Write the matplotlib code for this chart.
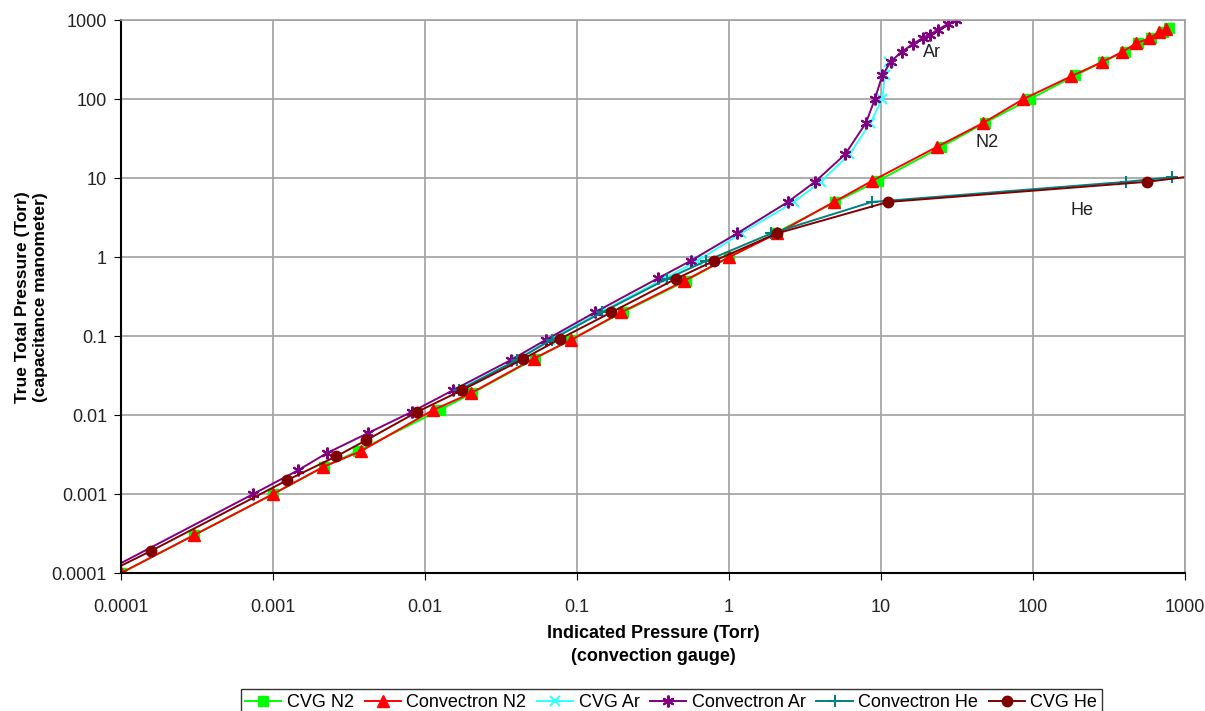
import matplotlib
matplotlib.use('Agg')
import matplotlib.pyplot as plt

plt.rcParams['font.family'] = ['Liberation Sans', 'DejaVu Sans']

# CVG N2 (indicated, true)
cvg_n2_x = [0.0001, 0.0003, 0.001, 0.00215, 0.0036, 0.0125, 0.0205, 0.053, 0.09, 0.2, 0.52, 1.0,
            2.0, 5.0, 9.5, 25, 48, 95, 190, 290, 400, 490, 600, 720, 790]
cvg_n2_y = [0.0001, 0.0003, 0.001, 0.0022, 0.0035, 0.0116, 0.019, 0.052, 0.09, 0.2, 0.5, 1.0,
            2.0, 5.0, 9.2, 25, 50, 100, 200, 300, 400, 510, 600, 710, 790]
# Convectron N2
cnv_n2_x = [0.0001, 0.0003, 0.001, 0.00213, 0.0038, 0.0113, 0.0201, 0.052, 0.092, 0.195, 0.506, 1.0,
            2.07, 4.9, 8.7, 23.4, 46.9, 86, 178, 284, 385, 477, 580, 674, 750]
cnv_n2_y = [0.0001, 0.0003, 0.001, 0.0022, 0.0035, 0.0116, 0.019, 0.052, 0.09, 0.2, 0.5, 1.0,
            2.0, 5.0, 9.2, 25, 50, 100, 195, 295, 395, 510, 590, 700, 770]
# CVG Ar
cvg_ar_x = [0.0165, 0.04, 0.066, 0.142, 0.37, 0.62, 1.2, 2.68, 4.0, 6.2, 8.5, 10.2, 10.6, 11.3]
cvg_ar_y = [0.0207, 0.05, 0.09, 0.2, 0.53, 0.9, 2.0, 5.0, 9.0, 20, 50, 100, 200, 300]
# Convectron Ar
cnv_ar_x = [0.000075, 0.00074, 0.00146, 0.00226, 0.0042, 0.0082, 0.0153, 0.0368, 0.0625, 0.131,
            0.341, 0.56, 1.13, 2.44, 3.68, 5.8, 7.96, 9.1, 10.2, 11.6, 13.7, 16.2, 18.9, 21,
            23.7, 27.6, 31]
cnv_ar_y = [0.0001, 0.001, 0.002, 0.0033, 0.0059, 0.011, 0.0207, 0.05, 0.09, 0.2,
            0.54, 0.9, 2.0, 5.0, 9.0, 20, 50, 100, 200, 300, 400, 500, 600, 660,
            760, 900, 1000]
# Convectron He
cnv_he_x = [0.0168, 0.0403, 0.068, 0.146, 0.39, 0.71, 1.9, 8.7, 410, 820]
cnv_he_y = [0.0207, 0.05, 0.09, 0.2, 0.53, 0.9, 2.0, 5.0, 9.0, 10.3]
# CVG He
cvg_he_x = [0.00008, 0.000157, 0.00124, 0.0026, 0.0041, 0.0089, 0.0175, 0.044, 0.077, 0.168,
            0.445, 0.8, 2.07, 11.1, 562, 1300]
cvg_he_y = [0.0001, 0.00019, 0.0015, 0.003, 0.0048, 0.011, 0.0207, 0.051, 0.092, 0.2,
            0.53, 0.9, 2.0, 5.0, 9.0, 11.0]

ticks = [0.0001, 0.001, 0.01, 0.1, 1, 10, 100, 1000]
tick_labels = ['0.0001', '0.001', '0.01', '0.1', '1', '10', '100', '1000']

fig = plt.figure(figsize=(12.05, 7.11), dpi=100)
ax = fig.add_axes([0.1004, 0.194, 0.883, 0.7775])

lw = 1.4
ax.plot(cvg_n2_x, cvg_n2_y, color='#00ff00', marker='s', ms=7.5, lw=lw, label='CVG N2')
ax.plot(cnv_n2_x, cnv_n2_y, color='#ff0000', marker='^', ms=8.5, lw=lw, label='Convectron N2')
ax.plot(cvg_ar_x, cvg_ar_y, color='#33ffff', marker='x', ms=7, mew=1.5, lw=lw, label='CVG Ar')
ax.plot(cnv_ar_x, cnv_ar_y, color='#800080', marker=(6, 2, 0), ms=8.5, mew=1.5, lw=lw, label='Convectron Ar')
ax.plot(cnv_he_x, cnv_he_y, color='#008080', marker='+', ms=9, mew=1.5, lw=lw, label='Convectron He')
ax.plot(cvg_he_x, cvg_he_y, color='#800000', marker='o', ms=7.5, lw=lw, label='CVG He')

ax.set_xscale('log')
ax.set_yscale('log')
ax.set_xlim(0.0001, 1000)
ax.set_ylim(0.0001, 1000)
ax.set_xticks(ticks)
ax.set_xticklabels(tick_labels)
ax.set_yticks(ticks)
ax.set_yticklabels(tick_labels)
ax.minorticks_off()
ax.tick_params(axis='both', labelsize=13, colors='black', labelcolor='#222222', length=5, direction='out')
ax.tick_params(axis='x', pad=14)
ax.tick_params(axis='y', pad=5)
ax.grid(True, color='#a0a0a0', lw=1.2)
ax.set_axisbelow(True)
for s in ['top', 'right']:
    ax.spines[s].set_color('#a0a0a0')
    ax.spines[s].set_linewidth(1.2)
for s in ['left', 'bottom']:
    ax.spines[s].set_color('black')
    ax.spines[s].set_linewidth(1.5)

ax.set_xlabel('Indicated Pressure (Torr)\n(convection gauge)', fontsize=13, fontweight='bold',
              labelpad=6, linespacing=1.45)
ax.set_ylabel('True Total Pressure (Torr)\n(capacitance manometer)', fontsize=12.5, fontweight='bold',
              labelpad=3)

ax.text(21.6, 394, 'Ar', fontsize=13, ha='center', va='center', color='#222222')
ax.text(50, 28.6, 'N2', fontsize=13, ha='center', va='center', color='#222222')
ax.text(210, 3.9, 'He', fontsize=13, ha='center', va='center', color='#222222')

leg = fig.legend(loc='center', bbox_to_anchor=(0.557, 0.012), ncol=6, fontsize=13,
                 frameon=True, fancybox=False, edgecolor='black', handlelength=2.0,
                 handletextpad=0.3, columnspacing=0.6, borderpad=0.25)
leg.get_frame().set_linewidth(1.0)

fig.savefig('out.png', dpi=100)
